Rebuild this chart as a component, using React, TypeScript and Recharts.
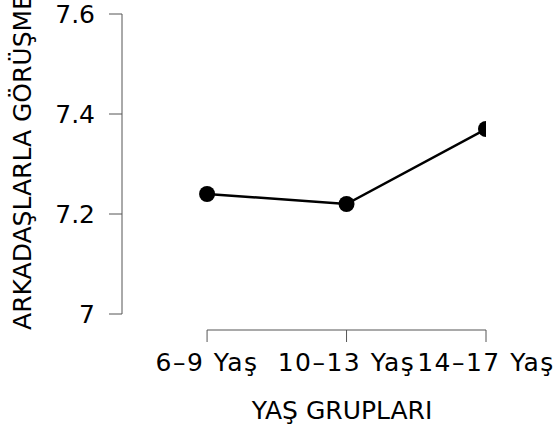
import React from 'react';
import {
  LineChart,
  Line,
  XAxis,
  YAxis,
  ReferenceLine,
  Label,
} from 'recharts';

const ageGroups = ['6–9 Yaş', '10–13 Yaş', '14–17 Yaş'];
const meetingScores = [7.24, 7.22, 7.37];
const yTicks = [7, 7.2, 7.4, 7.6];
const xTicks = [0, 1, 2];

// R-style detached axes: the plot box is wider/taller than the tick ranges
const xMin = -0.61;
const yMin = 6.968;
const axisColor = '#555';
const font = 'DejaVu Sans';

const chartData = meetingScores.map((score, i) => ({ idx: i, score }));

const YLabel = ({ viewBox }: any) => {
  const cx = viewBox.x + 22;
  const cy = viewBox.y + viewBox.height / 2 - 10;
  return (
    <text
      x={cx}
      y={cy}
      transform={`rotate(-90, ${cx}, ${cy})`}
      textAnchor="middle"
      dominantBaseline="central"
      fontSize={25}
      fontFamily={font}
      fill="#000"
    >
      ARKADAŞLARLA GÖRÜŞME
    </text>
  );
};

const XLabel = ({ viewBox }: any) => {
  const cx = viewBox.x + viewBox.width / 2 + 38;
  const cy = viewBox.y + 80;
  return (
    <text
      x={cx}
      y={cy}
      textAnchor="middle"
      dominantBaseline="central"
      fontSize={25}
      fontFamily={font}
      fill="#000"
    >
      YAŞ GRUPLARI
    </text>
  );
};

const App = () => {
  return (
    <div style={{ position: 'absolute', left: 0, top: 0, background: '#fff' }}>
      <LineChart
        width={553}
        height={428}
        data={chartData}
        margin={{ top: 14, right: 67, bottom: 0, left: 0 }}
        style={{ fontFamily: font }}
      >
        <XAxis
          dataKey="idx"
          type="number"
          domain={[xMin, 2]}
          ticks={xTicks}
          interval={0}
          allowDataOverflow
          tickFormatter={(i: number) => ageGroups[i]}
          axisLine={false}
          tickLine={{ stroke: axisColor }}
          tickSize={12}
          tickMargin={11}
          height={98}
          tick={{ fontSize: 25, fill: '#000', letterSpacing: 1.5 }}
        >
          <Label content={<XLabel />} />
        </XAxis>
        <YAxis
          type="number"
          domain={[yMin, 7.6]}
          ticks={yTicks}
          interval={0}
          allowDataOverflow
          axisLine={false}
          tickLine={{ stroke: axisColor }}
          tickSize={13}
          tickMargin={14}
          width={122}
          tick={{ fontSize: 25, fill: '#000' }}
          tickFormatter={(v: number) => String(v)}
        >
          <Label content={<YLabel />} />
        </YAxis>
        <ReferenceLine
          segment={[{ x: xMin, y: 7 }, { x: xMin, y: 7.6 }]}
          stroke={axisColor}
          ifOverflow="visible"
        />
        <ReferenceLine
          segment={[{ x: 0, y: yMin }, { x: 2, y: yMin }]}
          stroke={axisColor}
          ifOverflow="visible"
        />
        <Line
          dataKey="score"
          type="linear"
          stroke="#000"
          strokeWidth={2.5}
          dot={{ r: 8, fill: '#000', stroke: '#000', strokeWidth: 0 }}
          isAnimationActive={false}
        />
      </LineChart>
    </div>
  );
};

export default App;
